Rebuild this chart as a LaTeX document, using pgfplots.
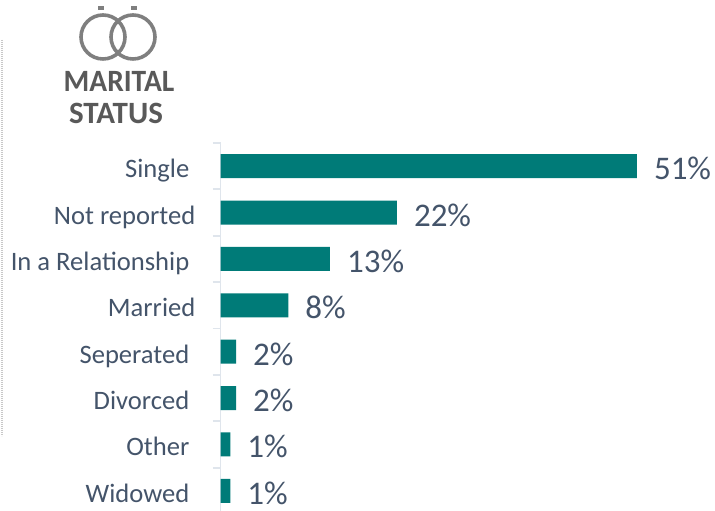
\documentclass[border=0pt]{standalone}
\usepackage{pgfplots}
\usepackage{fontspec}
\setmainfont{Carlito}
\pgfplotsset{compat=1.18}
\definecolor{barc}{HTML}{007B78}
\definecolor{txt}{HTML}{44546A}
\definecolor{axc}{HTML}{DFE5EC}
\definecolor{ring}{HTML}{7F7F7F}
\definecolor{ttl}{HTML}{595959}
\definecolor{dots}{HTML}{C8C8C8}
\begin{document}
\begin{tikzpicture}[x=1bp,y=1bp]
\useasboundingbox (0,0) rectangle (715,511);
\draw[dots,line width=2bp,dash pattern=on 1bp off 1bp] (2,471) -- (2,75);
\draw[ring,line width=3.6bp] (103,474) circle (22);
\draw[ring,line width=3.6bp] (133,474) circle (22);
\fill[ring] (98,501) rectangle (104,505);
\fill[ring] (131,501) rectangle (137,505);
\node[text=ttl,anchor=center,xscale=.95,font=\fontsize{31bp}{31bp}\selectfont\bfseries] at (119,430) {MARITAL};
\node[text=ttl,anchor=center,font=\fontsize{31bp}{31bp}\selectfont\bfseries] at (116,398) {STATUS};
\begin{axis}[
  at={(220.5bp,-3bp)},anchor=south west,
  scale only axis,width=480bp,height=371bp,
  xmin=0,xmax=58.8,ymin=-0.5,ymax=7.5,y dir=reverse,
  clip=false,
  axis x line=none,axis y line*=left,
  y axis line style={axc,line width=1.8bp,-},
  ytick={0,...,7},
  yticklabels={Single\kern6bp,Not reported,In a Relationship\kern6bp,Married,Seperated\kern6bp,Divorced\kern6bp,Other\kern6bp,Widowed\kern6bp},
  minor ytick={-0.5,0.5,...,7.5},
  tick align=outside,
  major tick length=0pt,minor tick length=8bp,
  minor tick style={axc,line width=1.8bp},
  major tick style={draw=none},
  yticklabel style={text=txt,font=\fontsize{26.6bp}{27bp}\selectfont,inner sep=0pt,xshift=-25bp,yshift=-11.5bp,anchor=base east},
  xbar,bar width=24bp,
  point meta=explicit symbolic,
  nodes near coords={\pgfplotspointmeta\%},
  nodes near coords style={text=txt,font=\fontsize{33bp}{33bp}\selectfont,anchor=base west,inner sep=0pt,xshift=17bp,yshift=-13.5bp},
]
\addplot[fill=barc,draw=none] table[x=v,y=y,meta=l,row sep=\\]{
v y l\\
51 0 51\\
21.6 1 22\\
13.4 2 13\\
8.3 3 8\\
1.9 4 2\\
1.9 5 2\\
1.2 6 1\\
1.2 7 1\\
};
\end{axis}
\end{tikzpicture}
\end{document}
